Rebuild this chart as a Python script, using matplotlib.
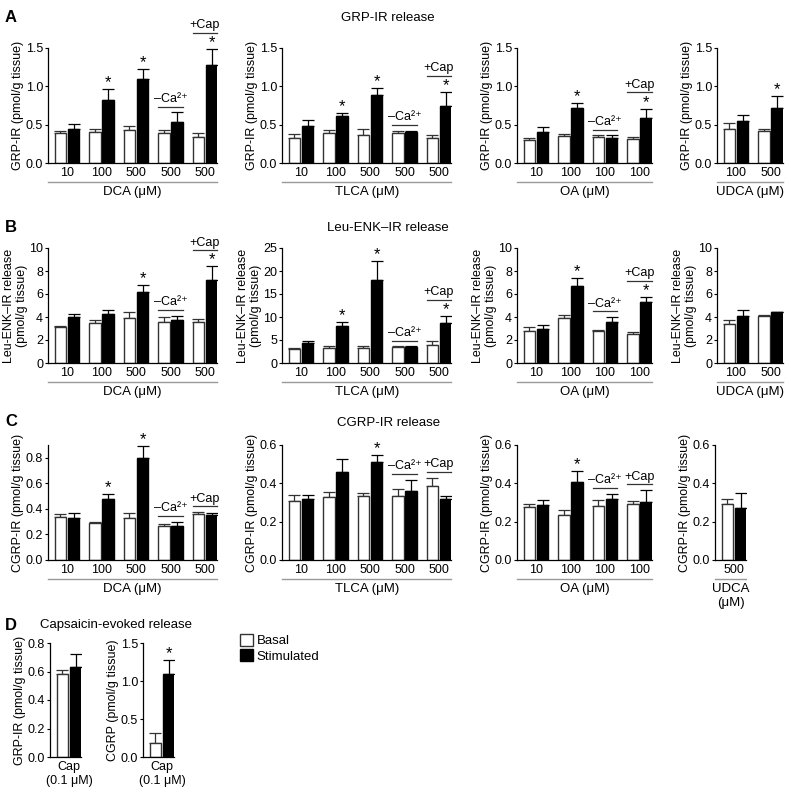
import numpy as np
import matplotlib
matplotlib.use('Agg')
import matplotlib.pyplot as plt
from matplotlib.patches import Patch

plt.rcParams['font.family'] = ['Liberation Sans', 'DejaVu Sans']
plt.rcParams['font.size'] = 9

W, H = 791, 798
UNIT = 34.5          # pixels per group on the x axis
CA = '\u2013Ca\u00b2\u207a'
CAP = '+Cap'

# ---------------- A: GRP-IR release ----------------
a_dca_groups = ['10', '100', '500', '500', '500']
a_dca_basal = [0.39, 0.40, 0.43, 0.39, 0.34]
a_dca_basal_err = [0.03, 0.05, 0.05, 0.04, 0.05]
a_dca_stim = [0.45, 0.82, 1.10, 0.54, 1.28]
a_dca_stim_err = [0.06, 0.14, 0.13, 0.12, 0.21]
a_dca_stars = [1, 2, 4]

a_tlca_groups = ['10', '100', '500', '500', '500']
a_tlca_basal = [0.32, 0.39, 0.37, 0.39, 0.33]
a_tlca_basal_err = [0.06, 0.04, 0.07, 0.03, 0.03]
a_tlca_stim = [0.48, 0.61, 0.89, 0.40, 0.75]
a_tlca_stim_err = [0.08, 0.04, 0.09, 0.02, 0.18]
a_tlca_stars = [1, 2, 4]

a_oa_groups = ['10', '100', '100', '100']
a_oa_basal = [0.30, 0.35, 0.34, 0.31]
a_oa_basal_err = [0.03, 0.03, 0.02, 0.03]
a_oa_stim = [0.40, 0.72, 0.33, 0.59]
a_oa_stim_err = [0.07, 0.06, 0.03, 0.12]
a_oa_stars = [1, 3]

a_udca_groups = ['100', '500']
a_udca_basal = [0.44, 0.42]
a_udca_basal_err = [0.08, 0.03]
a_udca_stim = [0.55, 0.72]
a_udca_stim_err = [0.07, 0.16]
a_udca_stars = [1]

# ---------------- B: Leu-ENK-IR release ----------------
b_dca_basal = [3.1, 3.5, 3.9, 3.6, 3.6]
b_dca_basal_err = [0.1, 0.2, 0.5, 0.4, 0.2]
b_dca_stim = [4.0, 4.3, 6.2, 3.7, 7.2]
b_dca_stim_err = [0.3, 0.3, 0.6, 0.4, 1.2]
b_dca_stars = [2, 4]

b_tlca_basal = [3.1, 3.3, 3.3, 3.4, 3.9]
b_tlca_basal_err = [0.2, 0.4, 0.4, 0.2, 0.8]
b_tlca_stim = [4.4, 8.0, 18.0, 3.4, 8.8]
b_tlca_stim_err = [0.4, 0.9, 4.2, 0.2, 1.5]
b_tlca_stars = [1, 2, 4]

b_oa_basal = [2.8, 3.9, 2.8, 2.5]
b_oa_basal_err = [0.35, 0.3, 0.1, 0.2]
b_oa_stim = [3.0, 6.7, 3.6, 5.3]
b_oa_stim_err = [0.3, 0.7, 0.4, 0.45]
b_oa_stars = [1, 3]

b_udca_basal = [3.4, 4.1]
b_udca_basal_err = [0.35, 0.1]
b_udca_stim = [4.1, 4.4]
b_udca_stim_err = [0.55, 0.05]
b_udca_stars = []

# ---------------- C: CGRP-IR release ----------------
c_dca_basal = [0.34, 0.29, 0.33, 0.27, 0.36]
c_dca_basal_err = [0.02, 0.005, 0.04, 0.01, 0.015]
c_dca_stim = [0.33, 0.48, 0.80, 0.27, 0.35]
c_dca_stim_err = [0.035, 0.035, 0.09, 0.03, 0.02]
c_dca_stars = [1, 2]

c_tlca_basal = [0.31, 0.33, 0.335, 0.335, 0.385]
c_tlca_basal_err = [0.03, 0.025, 0.015, 0.035, 0.045]
c_tlca_stim = [0.32, 0.46, 0.51, 0.36, 0.32]
c_tlca_stim_err = [0.02, 0.065, 0.04, 0.06, 0.015]
c_tlca_stars = [2]

c_oa_basal = [0.275, 0.235, 0.28, 0.29]
c_oa_basal_err = [0.015, 0.025, 0.035, 0.02]
c_oa_stim = [0.285, 0.405, 0.32, 0.305]
c_oa_stim_err = [0.03, 0.06, 0.025, 0.06]
c_oa_stars = [1]

c_udca_groups = ['500']
c_udca_basal = [0.29]
c_udca_basal_err = [0.03]
c_udca_stim = [0.27]
c_udca_stim_err = [0.08]
c_udca_stars = []

# ---------------- D: Capsaicin-evoked release ----------------
d_groups = ['Cap\n(0.1 \u03bcM)']
d_grp_basal = [0.58]
d_grp_basal_err = [0.03]
d_grp_stim = [0.63]
d_grp_stim_err = [0.09]
d_cgrp_basal = [0.18]
d_cgrp_basal_err = [0.13]
d_cgrp_stim = [1.09]
d_cgrp_stim_err = [0.19]

notes5 = {3: CA, 4: CAP}
notes4 = {2: CA, 3: CAP}

fig = plt.figure(figsize=(W / 100, H / 100), dpi=100)


def panel(left, top, groups, basal, basal_err, stim, stim_err, stars, notes,
          ymax, yticks, fmt, ylabel, xlabel=None, height=115):
    n = len(groups)
    width = (n - 1 + 0.91) * UNIT
    ax = fig.add_axes([left / W, 1 - (top + height) / H, width / W, height / H])
    x = np.arange(n)
    basal = np.array(basal)
    stim = np.array(stim)
    be = np.array(basal_err)
    se = np.array(stim_err)
    ax.bar(x - 0.19, basal, 0.34, color='white', edgecolor='#333333', lw=1, zorder=2)
    ax.bar(x + 0.19, stim, 0.34, color='black', edgecolor='black', lw=1, zorder=2)
    ax.errorbar(x - 0.19, basal, yerr=[np.zeros(n), be], fmt='none',
                ecolor='#333333', elinewidth=0.9, capsize=4.5, capthick=0.9, zorder=1)
    ax.errorbar(x + 0.19, stim, yerr=[np.zeros(n), se], fmt='none',
                ecolor='black', elinewidth=0.9, capsize=4.5, capthick=0.9, zorder=1)
    for i in stars:
        ax.text(x[i] + 0.19, stim[i] + se[i] - 0.01 * ymax, '*', ha='center',
                va='bottom', fontsize=12, clip_on=False)
    for i, lab in notes.items():
        top_i = max(basal[i] + be[i], stim[i] + se[i])
        ly = top_i + (0.14 if i in stars else 0.05) * ymax
        ax.plot([x[i] - 0.36, x[i] + 0.36], [ly, ly], color='#333333', lw=0.9,
                clip_on=False)
        ax.text(x[i], ly + 0.015 * ymax, lab, ha='center', va='bottom',
                fontsize=9, clip_on=False)
    ax.set_xlim(-0.55, n - 1 + 0.36)
    ax.set_ylim(0, ymax)
    ax.set_yticks(yticks, [fmt % v for v in yticks])
    ax.set_xticks(x, groups)
    ax.tick_params(axis='x', length=0, pad=3, labelsize=9)
    ax.tick_params(axis='y', length=2.5, width=0.8, pad=1, labelsize=9)
    for s in ['top', 'right']:
        ax.spines[s].set_visible(False)
    for s in ['left', 'bottom']:
        ax.spines[s].set_linewidth(0.9)
    ax.set_ylabel(ylabel, labelpad=1, linespacing=1.05)
    if xlabel:
        ax.plot([0, 1], [-0.165, -0.165], transform=ax.transAxes, color='#999999',
                lw=1, clip_on=False)
        ax.text(0.5, -0.2, xlabel, transform=ax.transAxes, ha='center', va='top',
                fontsize=9.5)
    return ax


cols = [48, 282, 517, 717]
grp_lab = 'GRP-IR (pmol/g tissue)'
enk_lab = 'Leu-ENK\u2013IR release\n(pmol/g tissue)'
cgrp_lab = 'CGRP-IR (pmol/g tissue)'
t_a = [0, 0.5, 1.0, 1.5]
t_b = [0, 2, 4, 6, 8, 10]
t_b2 = [0, 5, 10, 15, 20, 25]
t_c = [0, 0.2, 0.4, 0.6, 0.8]
t_c2 = [0, 0.2, 0.4, 0.6]

# Row A
panel(cols[0], 48, a_dca_groups, a_dca_basal, a_dca_basal_err, a_dca_stim, a_dca_stim_err,
      a_dca_stars, notes5, 1.5, t_a, '%.1f', grp_lab, 'DCA (\u03bcM)')
panel(cols[1], 48, a_tlca_groups, a_tlca_basal, a_tlca_basal_err, a_tlca_stim, a_tlca_stim_err,
      a_tlca_stars, notes5, 1.5, t_a, '%.1f', grp_lab, 'TLCA (\u03bcM)')
panel(cols[2], 48, a_oa_groups, a_oa_basal, a_oa_basal_err, a_oa_stim, a_oa_stim_err,
      a_oa_stars, notes4, 1.5, t_a, '%.1f', grp_lab, 'OA (\u03bcM)')
panel(cols[3], 48, a_udca_groups, a_udca_basal, a_udca_basal_err, a_udca_stim, a_udca_stim_err,
      a_udca_stars, {}, 1.5, t_a, '%.1f', grp_lab, 'UDCA (\u03bcM)')

# Row B
panel(cols[0], 248, a_dca_groups, b_dca_basal, b_dca_basal_err, b_dca_stim, b_dca_stim_err,
      b_dca_stars, notes5, 10, t_b, '%d', enk_lab, 'DCA (\u03bcM)')
panel(cols[1], 248, a_tlca_groups, b_tlca_basal, b_tlca_basal_err, b_tlca_stim, b_tlca_stim_err,
      b_tlca_stars, notes5, 25, t_b2, '%d', enk_lab, 'TLCA (\u03bcM)')
panel(cols[2], 248, a_oa_groups, b_oa_basal, b_oa_basal_err, b_oa_stim, b_oa_stim_err,
      b_oa_stars, notes4, 10, t_b, '%d', enk_lab, 'OA (\u03bcM)')
panel(cols[3], 248, a_udca_groups, b_udca_basal, b_udca_basal_err, b_udca_stim, b_udca_stim_err,
      b_udca_stars, {}, 10, t_b, '%d', enk_lab, 'UDCA (\u03bcM)')

# Row C
panel(cols[0], 445, a_dca_groups, c_dca_basal, c_dca_basal_err, c_dca_stim, c_dca_stim_err,
      c_dca_stars, notes5, 0.9, t_c, '%.1f', cgrp_lab, 'DCA (\u03bcM)')
panel(cols[1], 445, a_tlca_groups, c_tlca_basal, c_tlca_basal_err, c_tlca_stim, c_tlca_stim_err,
      c_tlca_stars, notes5, 0.6, t_c2, '%.1f', cgrp_lab, 'TLCA (\u03bcM)')
panel(cols[2], 445, a_oa_groups, c_oa_basal, c_oa_basal_err, c_oa_stim, c_oa_stim_err,
      c_oa_stars, notes4, 0.6, t_c2, '%.1f', cgrp_lab, 'OA (\u03bcM)')
panel(cols[3] - 2, 445, c_udca_groups, c_udca_basal, c_udca_basal_err, c_udca_stim, c_udca_stim_err,
      c_udca_stars, {}, 0.6, t_c2, '%.1f', cgrp_lab, 'UDCA\n(\u03bcM)')

# Row D
panel(50, 643, d_groups, d_grp_basal, d_grp_basal_err, d_grp_stim, d_grp_stim_err,
      [], {}, 0.8, t_c, '%.1f', grp_lab, height=114)
panel(143, 643, d_groups, d_cgrp_basal, d_cgrp_basal_err, d_cgrp_stim, d_cgrp_stim_err,
      [0], {}, 1.5, t_a, '%.1f', 'CGRP (pmol/g tissue)', height=114)

# Titles and panel letters
fig.text(388 / W, 1 - 18 / H, 'GRP-IR release', ha='center', va='center', fontsize=9.5)
fig.text(388 / W, 1 - 228 / H, 'Leu-ENK\u2013IR release', ha='center', va='center', fontsize=9.5)
fig.text(389 / W, 1 - 423 / H, 'CGRP-IR release', ha='center', va='center', fontsize=9.5)
fig.text(40 / W, 1 - 625 / H, 'Capsaicin-evoked release', ha='left', va='center', fontsize=9.5)
for lab, y in [('A', 18), ('B', 228), ('C', 421), ('D', 625)]:
    fig.text(5 / W, 1 - y / H, lab, ha='left', va='center', fontsize=12, fontweight='bold')

fig.legend(handles=[Patch(facecolor='white', edgecolor='#333333'),
                    Patch(facecolor='black', edgecolor='black')],
           labels=['Basal', 'Stimulated'], loc='upper left',
           bbox_to_anchor=(240 / W, 1 - 634 / H), frameon=False,
           handlelength=1.0, handleheight=1.0, handletextpad=0.25,
           labelspacing=0.15, fontsize=9.5, borderpad=0, borderaxespad=0)

fig.savefig('out.png', dpi=100)
